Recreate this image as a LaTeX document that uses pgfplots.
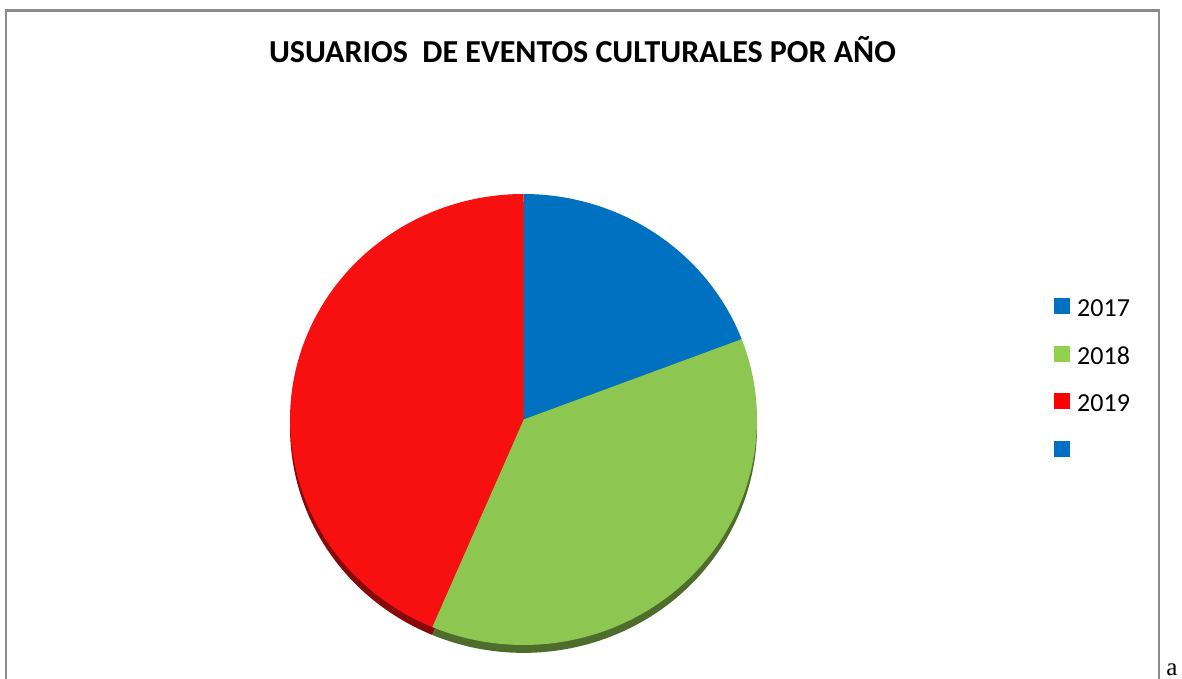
\documentclass[border=0pt]{standalone}
\usepackage{fontspec}
\setmainfont{Carlito}
\newfontfamily\seriffont{Liberation Serif}
\usepackage{pgfplots}
\usepackage{pgfplotstable}
\pgfplotsset{compat=1.18}
\definecolor{pieblue}{HTML}{0070C0}
\definecolor{piegreen}{HTML}{8DC650}
\definecolor{piered}{HTML}{F81010}
\definecolor{legblue}{HTML}{0070C0}
\definecolor{leggreen}{HTML}{92D050}
\definecolor{legred}{HTML}{FF0000}
\definecolor{frame}{HTML}{8C8C8C}

\pgfplotstableread{
year value
2017 19.2
2018 37.2
2019 43.6
}\piedata

\begin{document}%
\begin{tikzpicture}
\pgfplotstablegetelem{0}{value}\of\piedata \let\va\pgfplotsretval
\pgfplotstablegetelem{1}{value}\of\piedata \let\vb\pgfplotsretval
\pgfplotstablegetelem{2}{value}\of\piedata \let\vc\pgfplotsretval
\pgfmathsetmacro\tot{\va+\vb+\vc}
\pgfmathsetmacro\aA{90}
\pgfmathsetmacro\aB{90-360*\va/\tot}
\pgfmathsetmacro\aC{\aB-360*\vb/\tot}
\pgfmathsetmacro\aD{\aC-360*\vc/\tot}
\useasboundingbox (0,0) rectangle (591pt,339.5pt);
% frame
\draw[frame, line width=1.1pt] (2.9pt,-20pt) -- (2.9pt,{(679-10.5)*0.5pt}) -- (579.3pt,{(679-10.5)*0.5pt}) -- (579.3pt,-20pt);
% title
\node[font=\bfseries\fontsize{16}{19}\selectfont, anchor=center] at ({582.5*0.5pt},{(679-50)*0.5pt}) {USUARIOS\ \ DE EVENTOS CULTURALES POR AÑO};
% stray "a"
\node[font=\seriffont\fontsize{12.5}{14}\selectfont, anchor=base west, inner sep=0pt] at ({1166*0.5pt},{(679-675.5)*0.5pt}) {a};
\begin{axis}[
  at={(261.75pt,129.75pt)}, anchor=origin,
  scale only axis, width=233.5pt, height=225.5pt,
  xmin=-1, xmax=1, ymin=-1, ymax=1,
  axis lines=none, clip=false,
  legend style={at={(1.636,0.77)}, anchor=north west, draw=none, fill=none,
    inner sep=0pt, row sep=14.6pt, font=\fontsize{13}{15}\selectfont,
    nodes={inner sep=0pt, text height=9pt, text depth=0pt}},
  legend cell align=left,
  legend image code/.code={\fill[#1] (0pt,-3pt) rectangle (7.5pt,4.5pt); \path (11pt,0pt);},
]
% shadow (3D edge)
\addplot[fill=pieblue!60!black, draw=none, domain=\aB:\aA, samples=80, forget plot] ({cos(x)},{sin(x)-0.035}) -- (axis cs:0,-0.035) -- cycle;
\addplot[fill=piegreen!55!black, draw=none, domain=\aC:\aB, samples=120, forget plot] ({cos(x)},{sin(x)-0.035}) -- (axis cs:0,-0.035) -- cycle;
\addplot[fill=piered!55!black, draw=none, domain=\aD:\aC, samples=120, forget plot] ({cos(x)},{sin(x)-0.035}) -- (axis cs:0,-0.035) -- cycle;
% slices
\addplot[fill=pieblue, draw=none, domain=\aB:\aA, samples=80, forget plot] ({cos(x)},{sin(x)}) -- (axis cs:0,0) -- cycle;
\addplot[fill=piegreen, draw=none, domain=\aC:\aB, samples=120, forget plot] ({cos(x)},{sin(x)}) -- (axis cs:0,0) -- cycle;
\addplot[fill=piered, draw=none, domain=\aD:\aC, samples=120, forget plot] ({cos(x)},{sin(x)}) -- (axis cs:0,0) -- cycle;
\addlegendimage{legblue}\addlegendentry{2017}
\addlegendimage{leggreen}\addlegendentry{2018}
\addlegendimage{legred}\addlegendentry{2019}
\addlegendimage{legblue}\addlegendentry{}
\end{axis}
\end{tikzpicture}%
\end{document}
